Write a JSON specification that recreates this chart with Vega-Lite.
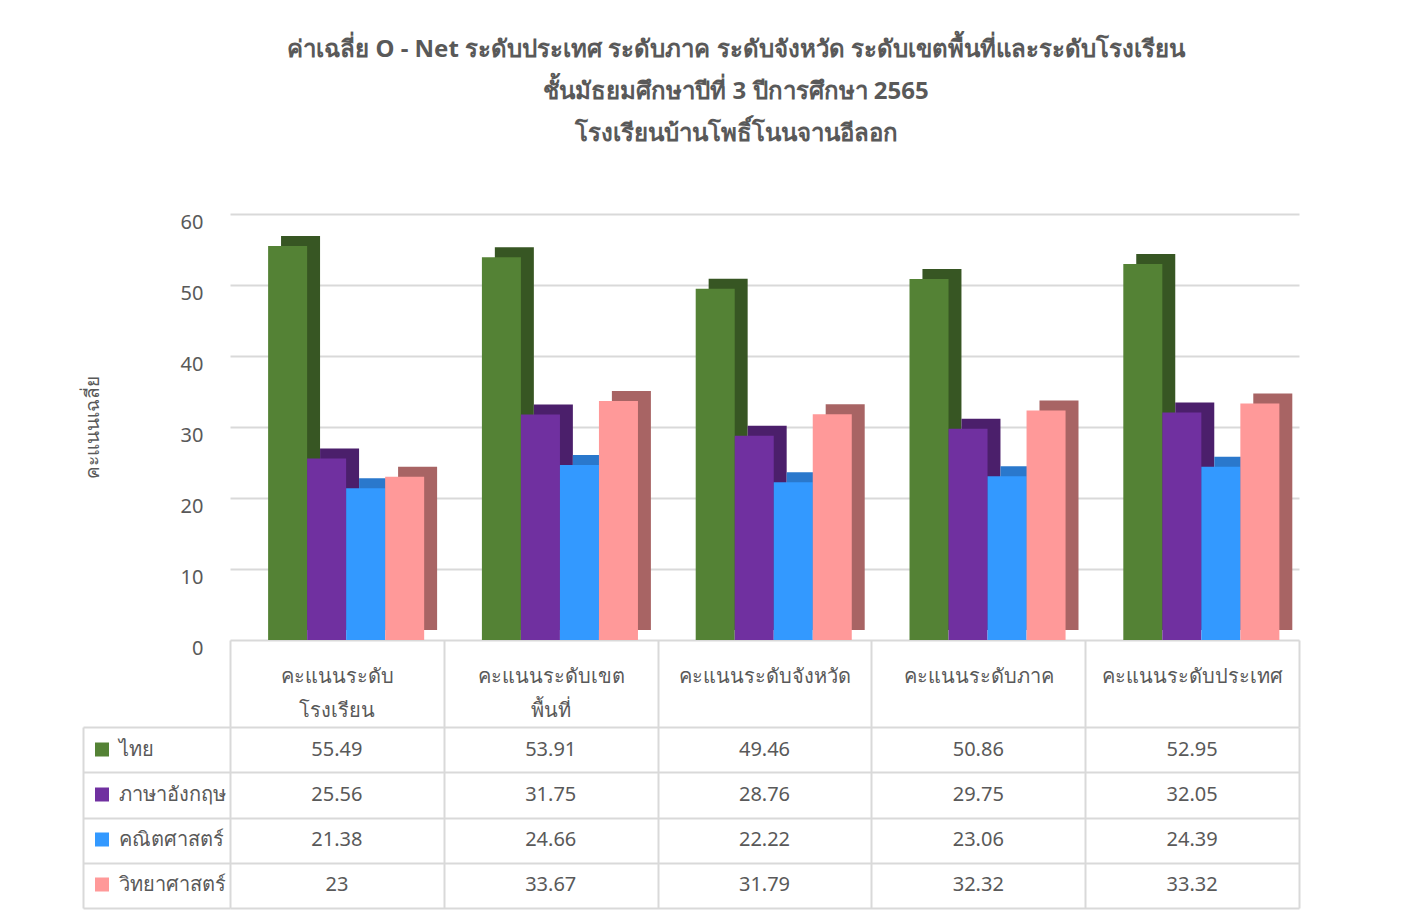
{
  "$schema": "https://vega.github.io/schema/vega-lite/v6.json",
  "padding": {"left": 82, "top": 38, "right": 10, "bottom": 5},
  "background": "white",
  "bounds": "flush",
  "config": {
    "font": "Noto Sans",
    "view": {"stroke": null}
  },
  "title": {
    "text": ["ค่าเฉลี่ย O - Net  ระดับประเทศ ระดับภาค ระดับจังหวัด ระดับเขตพื้นที่และระดับโรงเรียน", "ชั้นมัธยมศึกษาปีที่ 3  ปีการศึกษา 2565", "โรงเรียนบ้านโพธิ์โนนจานอีลอก"],
    "fontSize": 24,
    "fontWeight": "bold",
    "color": "#595959",
    "lineHeight": 42,
    "anchor": "middle",
    "dx": 45,
    "offset": 66
  },
  "data": {
    "values": [
      {"cat": "คะแนนระดับโรงเรียน", "series": "ไทย", "value": 55.49},
      {"cat": "คะแนนระดับโรงเรียน", "series": "ภาษาอังกฤษ", "value": 25.56},
      {"cat": "คะแนนระดับโรงเรียน", "series": "คณิตศาสตร์", "value": 21.38},
      {"cat": "คะแนนระดับโรงเรียน", "series": "วิทยาศาสตร์", "value": 23},
      {"cat": "คะแนนระดับเขตพื้นที่", "series": "ไทย", "value": 53.91},
      {"cat": "คะแนนระดับเขตพื้นที่", "series": "ภาษาอังกฤษ", "value": 31.75},
      {"cat": "คะแนนระดับเขตพื้นที่", "series": "คณิตศาสตร์", "value": 24.66},
      {"cat": "คะแนนระดับเขตพื้นที่", "series": "วิทยาศาสตร์", "value": 33.67},
      {"cat": "คะแนนระดับจังหวัด", "series": "ไทย", "value": 49.46},
      {"cat": "คะแนนระดับจังหวัด", "series": "ภาษาอังกฤษ", "value": 28.76},
      {"cat": "คะแนนระดับจังหวัด", "series": "คณิตศาสตร์", "value": 22.22},
      {"cat": "คะแนนระดับจังหวัด", "series": "วิทยาศาสตร์", "value": 31.79},
      {"cat": "คะแนนระดับภาค", "series": "ไทย", "value": 50.86},
      {"cat": "คะแนนระดับภาค", "series": "ภาษาอังกฤษ", "value": 29.75},
      {"cat": "คะแนนระดับภาค", "series": "คณิตศาสตร์", "value": 23.06},
      {"cat": "คะแนนระดับภาค", "series": "วิทยาศาสตร์", "value": 32.32},
      {"cat": "คะแนนระดับประเทศ", "series": "ไทย", "value": 52.95},
      {"cat": "คะแนนระดับประเทศ", "series": "ภาษาอังกฤษ", "value": 32.05},
      {"cat": "คะแนนระดับประเทศ", "series": "คณิตศาสตร์", "value": 24.39},
      {"cat": "คะแนนระดับประเทศ", "series": "วิทยาศาสตร์", "value": 33.32}
    ]
  },
  "vconcat": [
    {
      "width": 1069,
      "height": 426,
      "encoding": {
        "x": {
          "field": "cat", "type": "nominal",
          "sort": ["คะแนนระดับโรงเรียน", "คะแนนระดับเขตพื้นที่", "คะแนนระดับจังหวัด", "คะแนนระดับภาค", "คะแนนระดับประเทศ"],
          "scale": {"paddingInner": 0, "paddingOuter": 0},
          "axis": {
            "title": null, "labelAngle": 0, "labelFontSize": 20, "labelColor": "#595959",
            "labelBaseline": "top", "labelLineHeight": 34, "labelLimit": 400,
            "labelExpr": "datum.label == 'คะแนนระดับโรงเรียน' ? ['คะแนนระดับ', 'โรงเรียน'] : datum.label == 'คะแนนระดับเขตพื้นที่' ? ['คะแนนระดับเขต', 'พื้นที่'] : datum.label",
            "tickBand": "extent", "tickSize": 87, "tickColor": "#d9d9d9", "tickWidth": 2,
            "labelPadding": -61, "domain": false
          }
        },
        "y": {
          "field": "value", "type": "quantitative",
          "scale": {"domain": [0, 60]},
          "axis": {
            "title": "คะแนนเฉลี่ย", "titleFontSize": 19, "titleColor": "#595959", "titleFontWeight": "normal", "titlePadding": 78,
            "values": [0, 10, 20, 30, 40, 50, 60],
            "grid": true, "gridColor": "#d9d9d9", "gridWidth": 2,
            "domain": false, "ticks": false,
            "labelFontSize": 20, "labelColor": "#595959", "labelPadding": 27, "labelOffset": 8
          }
        }
      },
      "layer": [
        {
          "mark": {"type": "bar", "yOffset": -10, "y2Offset": -10},
          "encoding": {
            "xOffset": {
              "field": "series", "type": "nominal",
              "sort": ["ไทย", "ภาษาอังกฤษ", "คณิตศาสตร์", "วิทยาศาสตร์"],
              "scale": {"paddingInner": 0, "paddingOuter": 0.74, "align": 0.884}
            },
            "fill": {
              "field": "series", "type": "nominal",
              "scale": {"domain": ["ไทย", "ภาษาอังกฤษ", "คณิตศาสตร์", "วิทยาศาสตร์"], "range": ["#375623", "#4b1f6b", "#2a78cc", "#a86464"]},
              "legend": null
            }
          }
        },
        {
          "mark": {"type": "bar"},
          "encoding": {
            "xOffset": {
              "field": "series", "type": "nominal",
              "sort": ["ไทย", "ภาษาอังกฤษ", "คณิตศาสตร์", "วิทยาศาสตร์"],
              "scale": {"paddingInner": 0, "paddingOuter": 0.74, "align": 0.66}
            },
            "color": {
              "field": "series", "type": "nominal",
              "scale": {"domain": ["ไทย", "ภาษาอังกฤษ", "คณิตศาสตร์", "วิทยาศาสตร์"], "range": ["#548235", "#7030a0", "#3399ff", "#ff9999"]},
              "legend": {
                "orient": "none", "legendX": -138, "legendY": 513, "direction": "vertical",
                "title": null, "symbolType": "square", "symbolSize": 196, "symbolStrokeWidth": 0,
                "labelFontSize": 20, "labelColor": "#595959", "labelOffset": 7,
                "clipHeight": 45, "rowPadding": 0, "padding": 0
              }
            }
          }
        }
      ],
      "resolve": {"scale": {"xOffset": "independent"}}
    },
    {
      "width": 1069,
      "height": 181,
      "mark": {"type": "text", "fontSize": 20, "color": "#595959"},
      "encoding": {
        "x": {
          "field": "cat", "type": "nominal",
          "sort": ["คะแนนระดับโรงเรียน", "คะแนนระดับเขตพื้นที่", "คะแนนระดับจังหวัด", "คะแนนระดับภาค", "คะแนนระดับประเทศ"],
          "scale": {"paddingInner": 0, "paddingOuter": 0},
          "axis": {"title": null, "labels": false, "ticks": false, "domain": false, "grid": true, "tickBand": "extent", "gridColor": "#d9d9d9", "gridWidth": 2}
        },
        "y": {
          "field": "series", "type": "nominal",
          "sort": ["ไทย", "ภาษาอังกฤษ", "คณิตศาสตร์", "วิทยาศาสตร์"],
          "scale": {"paddingInner": 0, "paddingOuter": 0},
          "axis": {
            "title": null, "labels": false, "grid": true, "tickBand": "extent", "gridColor": "#d9d9d9", "gridWidth": 2,
            "ticks": true, "tickSize": -147, "tickColor": "#d9d9d9", "tickWidth": 2,
            "offset": 147, "domain": true, "domainColor": "#d9d9d9", "domainWidth": 2
          }
        },
        "text": {"field": "value", "type": "nominal"}
      }
    }
  ],
  "spacing": 87,
  "resolve": {"scale": {"color": "independent"}, "legend": {"color": "independent"}}
}
